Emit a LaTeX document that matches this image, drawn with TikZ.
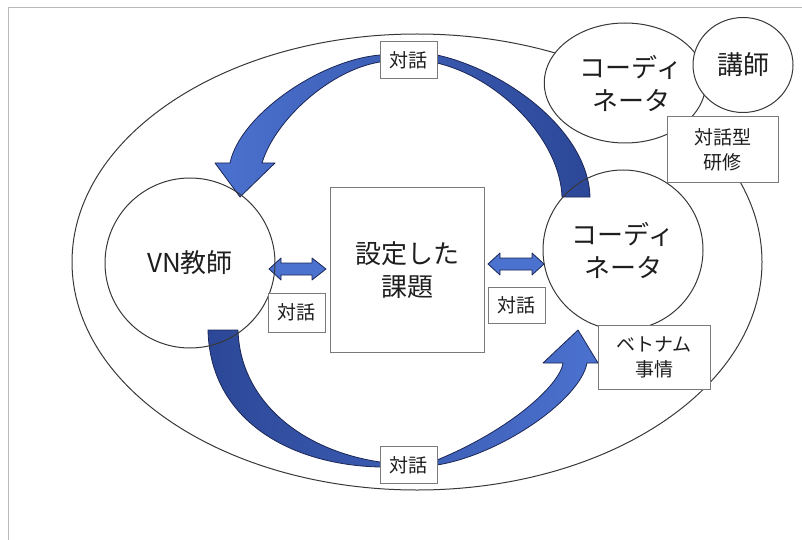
\documentclass[tikz,border=0pt]{standalone}
\usepackage{fontspec}
\setmainfont{Noto Sans CJK JP}
\usetikzlibrary{shapes.geometric}
\definecolor{lineg}{HTML}{383838}
\definecolor{boxg}{HTML}{7A7A7A}
\definecolor{blueL}{HTML}{4B72CF}
\definecolor{blueD}{HTML}{2C4797}
\definecolor{blueO}{HTML}{1B2656}
\definecolor{txt}{HTML}{1E1E1E}
\begin{document}
\begin{tikzpicture}[x=1pt,y=-1pt,
  ring/.style={draw=lineg, line width=1pt, inner sep=0pt, text=txt, align=center},
  lbox/.style={draw=boxg, line width=1pt, fill=white, inner sep=0pt, align=center, text=txt},
  bigtxt/.style={font=\fontsize{26}{33}\selectfont},
  smalltxt/.style={font=\fontsize{19}{25}\selectfont},
  bluearrow/.style={draw=blueO, line width=0.8pt, line join=round}
]
\useasboundingbox (0,0) rectangle (802,540);
% frame
\draw[gray!55, line width=0.8pt] (8,540) -- (8,7) -- (802,7);
% outer ellipse
\node[ring, ellipse, minimum width=690pt, minimum height=456pt] (outer) at (417,262) {};
% top curved arrow (coordinator -> VN teacher)
\shade[left color=blueL, right color=blueD]
  (590,197) .. controls (588,130) and (505,70) .. (437,55) -- (380,55)
  .. controls (320,60) and (240,115) .. (230,163) -- (215,163) -- (240,197) -- (275,163) -- (262,163)
  .. controls (275,120) and (330,70) .. (380,62) -- (437,63)
  .. controls (500,78) and (560,140) .. (562,197) -- cycle;
\draw[bluearrow]
  (590,197) .. controls (588,130) and (505,70) .. (437,55) -- (380,55)
  .. controls (320,60) and (240,115) .. (230,163) -- (215,163) -- (240,197) -- (275,163) -- (262,163)
  .. controls (275,120) and (330,70) .. (380,62) -- (437,63)
  .. controls (500,78) and (560,140) .. (562,197) -- cycle;
% bottom curved arrow (VN teacher -> coordinator)
\shade[left color=blueD, right color=blueL]
  (208,330) .. controls (210,420) and (290,465) .. (380,467) -- (437,465)
  .. controls (500,455) and (580,400) .. (587,363) -- (598,363) -- (578,330) -- (543,363) -- (563,363)
  .. controls (560,385) and (510,430) .. (437,460) -- (380,462)
  .. controls (300,450) and (240,400) .. (238,330) -- cycle;
\draw[bluearrow]
  (208,330) .. controls (210,420) and (290,465) .. (380,467) -- (437,465)
  .. controls (500,455) and (580,400) .. (587,363) -- (598,363) -- (578,330) -- (543,363) -- (563,363)
  .. controls (560,385) and (510,430) .. (437,460) -- (380,462)
  .. controls (300,450) and (240,400) .. (238,330) -- cycle;
% double arrows
\draw[bluearrow, fill=blueL] (269,269) -- (281,258) -- (281,263) -- (312,263) -- (312,258) -- (326,269)
  -- (312,280) -- (312,275) -- (281,275) -- (281,280) -- cycle;
\draw[bluearrow, fill=blueL] (488,264) -- (500,253) -- (500,258) -- (532,258) -- (532,253) -- (544,264)
  -- (532,275) -- (532,270) -- (500,270) -- (500,275) -- cycle;
% circles
\node[ring, circle, minimum size=170pt, bigtxt] (vn) at (190,263) {VN教師};
\node[ring, circle, minimum size=160pt, bigtxt] (coordR) at (623,250) {コーディ\\ネータ};
\node[ring, ellipse, fill=white, minimum width=146pt, minimum height=120pt, bigtxt] (coordT) at (625,83) {\hspace*{12pt}コーディ\\\hspace*{12pt}ネータ};
\node[ring, ellipse, fill=white, minimum width=100pt, minimum height=95pt, bigtxt] (lect) at (743,65) {講師};
% boxes
\node[lbox, minimum width=154pt, minimum height=165pt, bigtxt] (kadai) at (407,270) {設定した\\課題};
\node[lbox, minimum width=57pt, minimum height=37pt, smalltxt] (dtop) at (408.5,60.5) {対話};
\node[lbox, minimum width=57pt, minimum height=37pt, smalltxt] (dbot) at (408.5,465) {対話};
\node[lbox, minimum width=57pt, minimum height=39pt, smalltxt] (dleft) at (296.5,312.5) {対話};
\node[lbox, minimum width=57pt, minimum height=36pt, smalltxt] (dright) at (516.5,305) {対話};
\node[lbox, minimum width=111pt, minimum height=65pt, smalltxt] (kenshu) at (722.5,149.5) {対話型\\研修};
\node[lbox, minimum width=112pt, minimum height=64pt, smalltxt] (jijo) at (654,357) {ベトナム\\事情};
\end{tikzpicture}
\end{document}
